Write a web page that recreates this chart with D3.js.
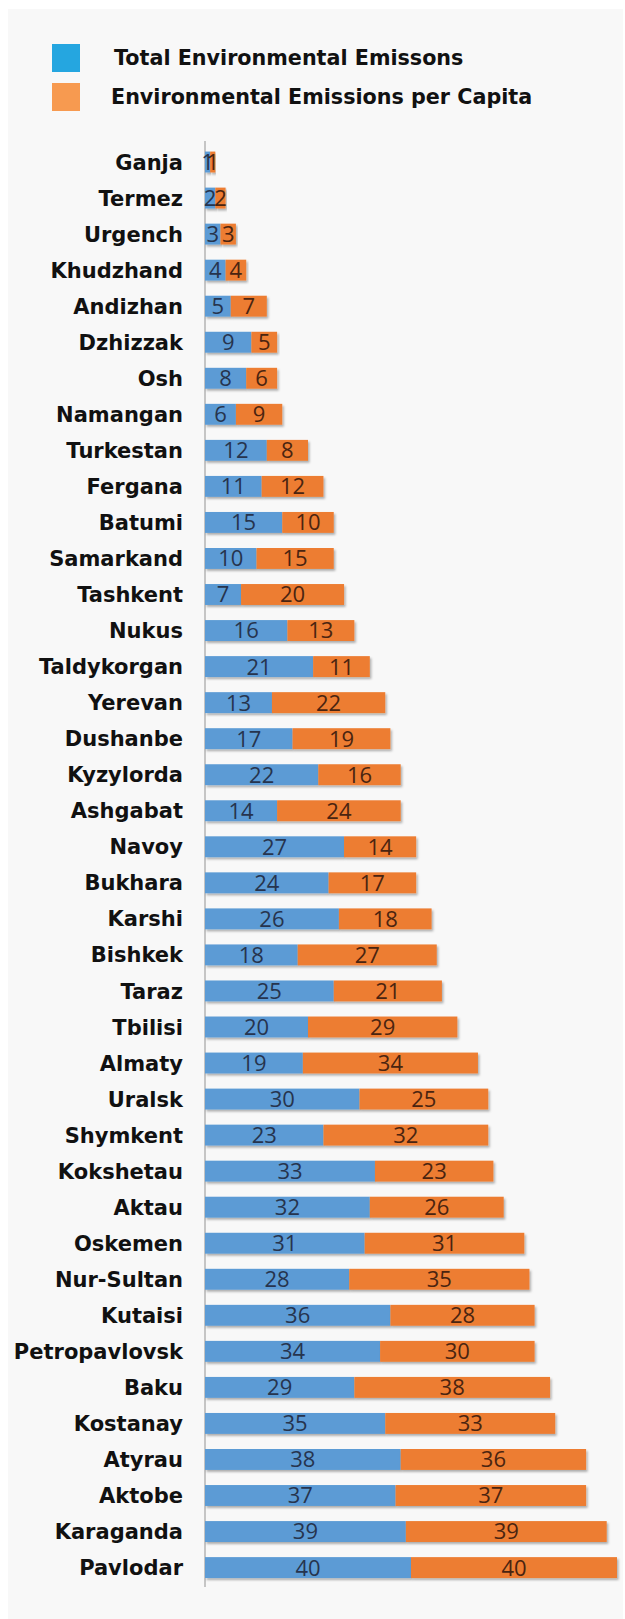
<!DOCTYPE html>
<html>
<head>
<meta charset="utf-8">
<script src="https://cdn.jsdelivr.net/npm/d3@7"></script>
<style>
  body { margin: 0; background: #fff; }
</style>
</head>
<body>
<script>
let cities = ["Ganja", "Termez", "Urgench", "Khudzhand", "Andizhan", "Dzhizzak", "Osh", "Namangan",
    "Turkestan", "Fergana", "Batumi", "Samarkand", "Tashkent", "Nukus", "Taldykorgan", "Yerevan",
    "Dushanbe", "Kyzylorda", "Ashgabat", "Navoy", "Bukhara", "Karshi", "Bishkek", "Taraz", "Tbilisi",
    "Almaty", "Uralsk", "Shymkent", "Kokshetau", "Aktau", "Oskemen", "Nur-Sultan", "Kutaisi",
    "Petropavlovsk", "Baku", "Kostanay", "Atyrau", "Aktobe", "Karaganda", "Pavlodar"]
let total = [1, 2, 3, 4, 5, 9, 8, 6, 12, 11, 15, 10, 7, 16, 21, 13, 17, 22, 14, 27, 24, 26, 18, 25, 20,
    19, 30, 23, 33, 32, 31, 28, 36, 34, 29, 35, 38, 37, 39, 40]
let perCapita = [1, 2, 3, 4, 7, 5, 6, 9, 8, 12, 10, 15, 20, 13, 11, 22, 19, 16, 24, 14, 17, 18, 27, 21, 29,
    34, 25, 32, 23, 26, 31, 35, 28, 30, 38, 33, 36, 37, 39, 40]
let legendLabels = ["Total Environmental Emissons", "Environmental Emissions per Capita"]

draw()

function draw() {
    let w = 625
    let h = 1619
    let keys = ["total", "perCapita"]
    let barColors = ["#5b9bd5", "#ed7d31"]
    let legendColors = ["#25a6e0", "#f79a50"]
    let textColors = ["#26344e", "#4a2410"]

    let rows = cities.map((c, i) => ({ city: c, total: total[i], perCapita: perCapita[i] }))
    let series = d3.stack().keys(keys)(rows)

    let svg = d3.select("body")
        .append("svg")
            .attr("width", w)
            .attr("height", h)
            .style("display", "block")

    let defs = svg.append("defs")
    defs.append("filter")
            .attr("id", "shadow")
            .attr("x", "-5%").attr("y", "-30%")
            .attr("width", "115%").attr("height", "170%")
        .append("feDropShadow")
            .attr("dx", 1.5).attr("dy", 2)
            .attr("stdDeviation", 1.3)
            .attr("flood-color", "#000")
            .attr("flood-opacity", 0.3)

    // gray panel
    svg.append("rect")
        .attr("x", 8).attr("y", 9)
        .attr("width", 615).attr("height", h - 9)
        .attr("fill", "#f8f8f8")

    let x = d3.scaleLinear().domain([0, 80]).range([205, 617])
    let y = d3.scaleBand().domain(cities).range([144, 1585.6])
        .paddingInner(0.42).paddingOuter(0.21)

    // legend
    let legend = svg.append("g").selectAll("g")
        .data(legendLabels)
        .enter()
        .append("g")
            .attr("transform", (d, i) => `translate(52,${44 + i * 39})`)
    legend.append("rect")
        .attr("width", 28).attr("height", 28)
        .attr("fill", (d, i) => legendColors[i])
    legend.append("text")
        .text(d => d)
        .attr("x", (d, i) => i === 0 ? 62 : 59)
        .attr("y", 14)
        .attr("dy", "0.36em")
        .attr("fill", "#111")
        .style("font", "700 20.7px 'DejaVu Sans'")

    // axis line
    svg.append("line")
        .attr("x1", x(0)).attr("x2", x(0))
        .attr("y1", 141).attr("y2", 1587)
        .attr("stroke", "#b4b4b4")
        .attr("stroke-width", 1.5)

    // bars
    let groups = svg.append("g").selectAll("g")
        .data(series)
        .enter()
        .append("g")
            .attr("fill", (d, i) => barColors[i])
    groups.selectAll("rect")
        .data(d => d)
        .enter()
        .append("rect")
            .attr("x", d => x(d[0]))
            .attr("y", d => y(d.data.city))
            .attr("width", d => x(d[1]) - x(d[0]))
            .attr("height", y.bandwidth())
            .attr("filter", "url(#shadow)")

    // value labels
    series.forEach((s, i) => {
        svg.append("g").selectAll("text")
            .data(s)
            .enter()
            .append("text")
                .text(d => d[1] - d[0])
                .attr("x", d => (x(d[0]) + x(d[1])) / 2)
                .attr("y", d => y(d.data.city) + y.bandwidth() / 2)
                .attr("dy", "0.36em")
                .attr("text-anchor", "middle")
                .attr("fill", textColors[i])
                .style("font", "400 22px 'Open Sans'")
    })

    // city labels
    svg.append("g").selectAll("text")
        .data(cities)
        .enter()
        .append("text")
            .text(d => d)
            .attr("x", 183)
            .attr("y", d => y(d) + y.bandwidth() / 2)
            .attr("dy", "0.36em")
            .attr("text-anchor", "end")
            .attr("fill", "#111")
            .style("font", "700 21px 'DejaVu Sans'")
}
</script>
</body>
</html>
